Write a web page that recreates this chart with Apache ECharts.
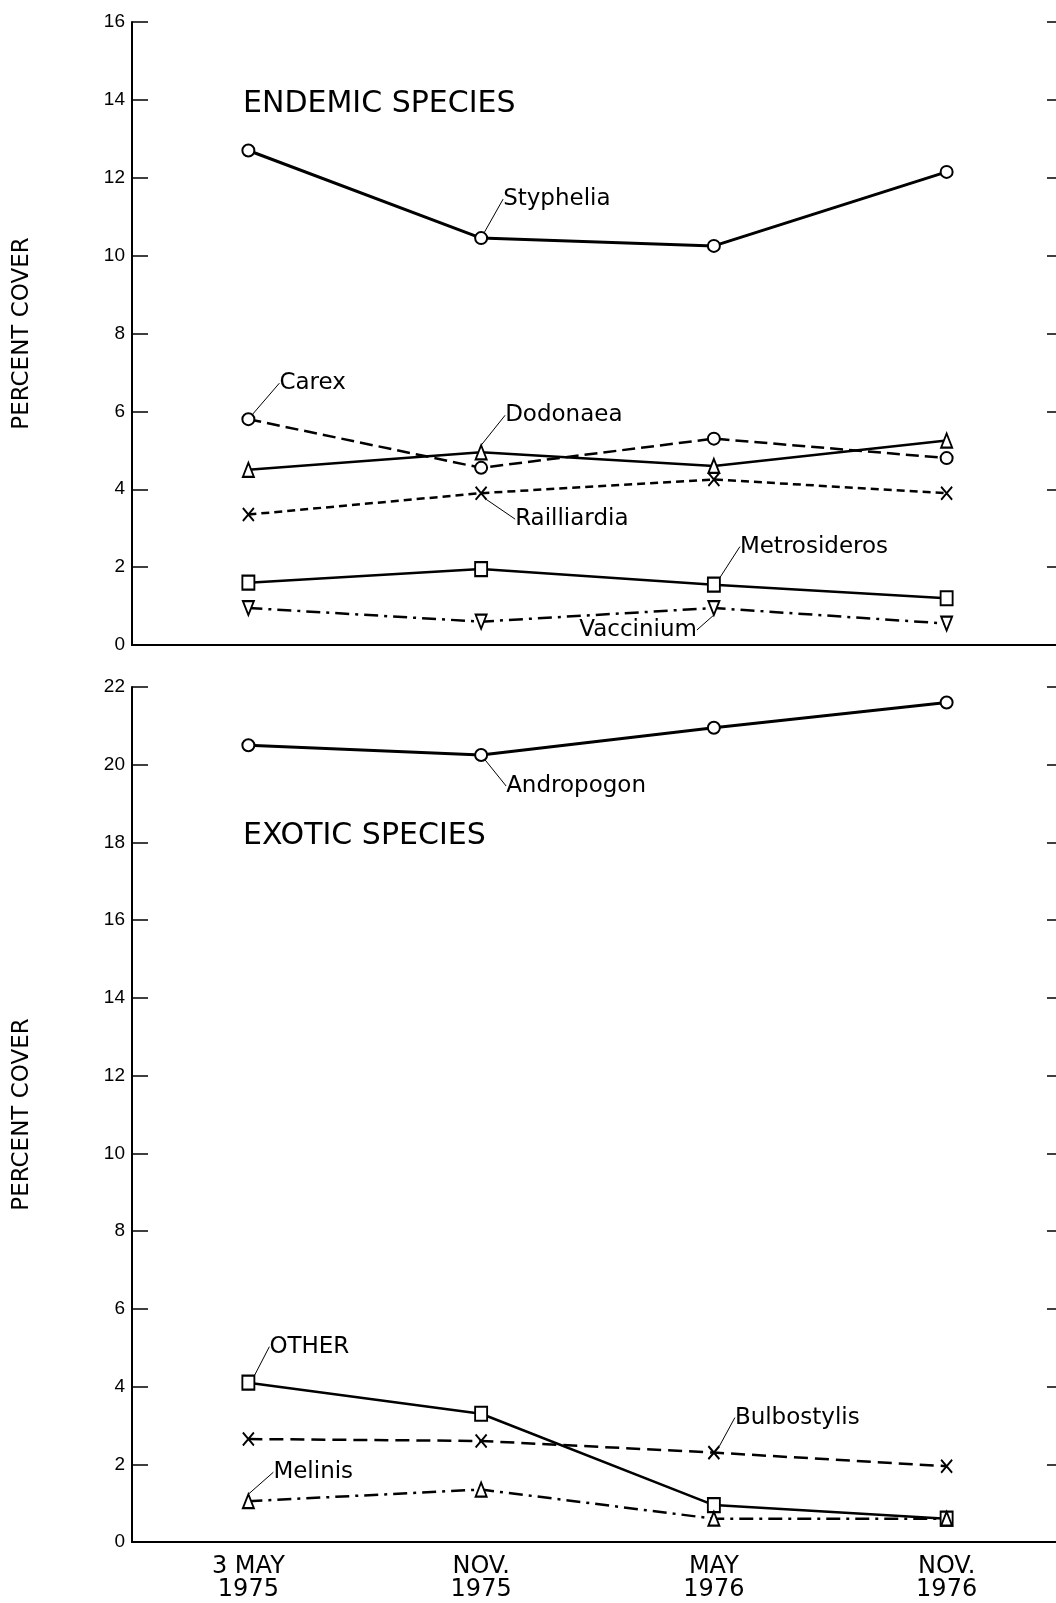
<!DOCTYPE html>
<html>
<head>
<meta charset="utf-8">
<title>Percent cover</title>
<script src="https://cdn.jsdelivr.net/npm/echarts@6/dist/echarts.min.js"></script>
<style>
  html, body { margin: 0; padding: 0; background: #fff; }
  #chart { width: 1056px; height: 1603px; }
</style>
</head>
<body>
<div id="chart"></div>
<script>
// sampling dates (x axis)
const dates = ["3 MAY\n1975", "NOV.\n1975", "MAY\n1976", "NOV.\n1976"];

// endemic species, percent cover
const styphelia = [12.7, 10.45, 10.25, 12.15];
const carex = [5.8, 4.55, 5.3, 4.8];
const dodonaea = [4.5, 4.95, 4.6, 5.25];
const railliardia = [3.35, 3.9, 4.25, 3.9];
const metrosideros = [1.6, 1.95, 1.55, 1.2];
const vaccinium = [0.95, 0.6, 0.95, 0.55];

// exotic species, percent cover
const andropogon = [20.5, 20.25, 20.95, 21.6];
const other = [4.1, 3.3, 0.95, 0.6];
const bulbostylis = [2.65, 2.6, 2.3, 1.95];
const melinis = [1.05, 1.35, 0.6, 0.6];

const topTicks = [0, 16];
const bottomTicks = [0, 22];

const FONT = "DejaVu Sans";
const NUM_FONT = "Liberation Sans";
const X_SYM = "path://M0,0L10,12M10,0L0,12";

var el = document.getElementById("chart");
var chart = echarts.init(el);

// one line series; lab = which point carries the name label and where it sits
function line(name, values, grid, sym, dash, width, lab) {
  return {
    name: name,
    type: "line",
    xAxisIndex: grid * 2,
    yAxisIndex: grid * 2,
    data: values.map((v, i) =>
      i === lab.i ? { value: v, label: { show: true } } : v
    ),
    symbol: sym.shape,
    symbolSize: sym.size,
    symbolRotate: sym.rotate || 0,
    showAllSymbol: true,
    lineStyle: { color: "#000", width: width, type: dash },
    itemStyle: { color: "#fff", borderColor: "#000", borderWidth: 2 },
    label: {
      show: false,
      formatter: name,
      color: "#000",
      fontFamily: FONT,
      fontSize: 23,
    },
    labelLine: { show: true, lineStyle: { color: "#000", width: 1 } },
    labelLayout: (p) => {
      if (p.dataIndex !== lab.i) return {};
      return {
        x: p.rect.x + p.rect.width / 2 + lab.dx,
        y: p.rect.y + p.rect.height / 2 + lab.dy,
        align: lab.align || "left",
        verticalAlign: "middle",
      };
    },
    z: 3,
    animation: false,
  };
}

const circle = { shape: "circle", size: 12 };
const tri = { shape: "triangle", size: [11, 14] };
const triDown = { shape: "triangle", size: [11, 14], rotate: 180 };
const square = { shape: "rect", size: [12, 14] };
const cross = { shape: X_SYM, size: [11, 13] };

function xAxes(grid) {
  const base = {
    type: "category",
    gridIndex: grid,
    data: dates,
    boundaryGap: true,
    axisLine: { lineStyle: { color: "#000", width: 2 } },
    axisTick: { inside: true, alignWithLabel: true, length: 16, lineStyle: { color: "#000", width: 1.5 } },
    splitLine: { show: false },
  };
  return [
    Object.assign({}, base, {
      position: "bottom",
      axisLabel: grid === 1
        ? { color: "#000", fontFamily: FONT, fontSize: 24, lineHeight: 23, margin: 13 }
        : { show: false },
    }),
    Object.assign({}, base, { position: "top", axisLabel: { show: false } }),
  ];
}

function yAxes(grid, range) {
  const base = {
    type: "value",
    gridIndex: grid,
    min: range[0],
    max: range[1],
    interval: 2,
    axisLine: { show: true, lineStyle: { color: "#000", width: 2 } },
    axisTick: { show: true, inside: true, length: 16, lineStyle: { color: "#000", width: 1.5 } },
    splitLine: { show: false },
  };
  return [
    Object.assign({}, base, {
      position: "left",
      name: "PERCENT COVER",
      nameLocation: "middle",
      nameRotate: 90,
      nameGap: 98,
      nameTextStyle: { color: "#000", fontFamily: FONT, fontSize: 23 },
      axisLabel: { color: "#000", fontFamily: NUM_FONT, fontSize: 19, margin: 7 },
    }),
    Object.assign({}, base, { position: "right", axisLabel: { show: false } }),
  ];
}

var option = {
  backgroundColor: "#fff",
  animation: false,
  title: [
    {
      text: "ENDEMIC SPECIES",
      left: 238,
      top: 84,
      textStyle: { color: "#000", fontFamily: FONT, fontSize: 30, fontWeight: "normal" },
    },
    {
      text: "EXOTIC SPECIES",
      left: 238,
      top: 816,
      textStyle: { color: "#000", fontFamily: FONT, fontSize: 30, fontWeight: "normal" },
    },
  ],
  // right edge of the plot runs just past the page, as in the scan
  grid: [
    { left: 132, width: 931, top: 22, height: 623, outerBoundsMode: "none", containLabel: false },
    { left: 132, width: 931, top: 687, height: 855, outerBoundsMode: "none", containLabel: false },
  ],
  xAxis: xAxes(0).concat(xAxes(1)),
  yAxis: yAxes(0, topTicks).concat(yAxes(1, bottomTicks)),
  series: [
    line("Styphelia", styphelia, 0, circle, "solid", 3, { i: 1, dx: 22, dy: -39 }),
    line("Carex", carex, 0, circle, [13, 6], 2.5, { i: 0, dx: 31, dy: -36 }),
    line("Dodonaea", dodonaea, 0, tri, "solid", 2.5, { i: 1, dx: 24, dy: -37 }),
    line("Railliardia", railliardia, 0, cross, [8, 5], 2.5, { i: 1, dx: 34, dy: 26 }),
    line("Metrosideros", metrosideros, 0, square, "solid", 2.5, { i: 2, dx: 26, dy: -38 }),
    line("Vaccinium", vaccinium, 0, triDown, [14, 6, 3, 6], 2.5, { i: 2, dx: -17, dy: 22, align: "right" }),
    line("Andropogon", andropogon, 1, circle, "solid", 3, { i: 1, dx: 25, dy: 31 }),
    line("OTHER", other, 1, square, "solid", 2.5, { i: 0, dx: 21, dy: -36 }),
    line("Bulbostylis", bulbostylis, 1, cross, [14, 7], 2.5, { i: 2, dx: 21, dy: -35 }),
    line("Melinis", melinis, 1, tri, [14, 6, 3, 6], 2.5, { i: 0, dx: 25, dy: -29 }),
  ],
};

chart.setOption(option);
</script>
</body>
</html>
